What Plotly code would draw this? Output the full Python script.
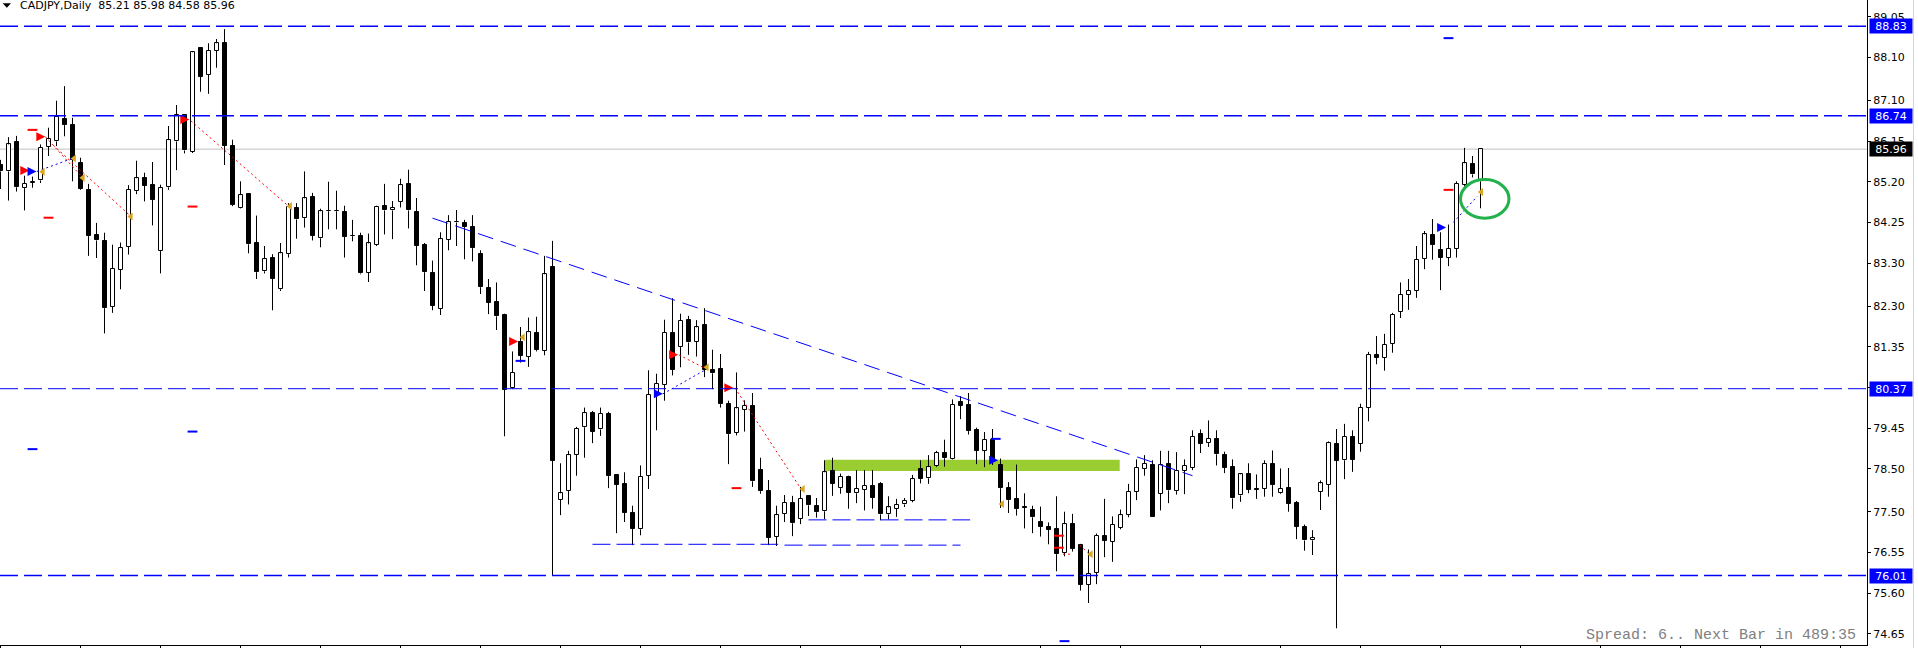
import plotly.graph_objects as go

# ---------------- data ----------------
open_ = [85.58, 85.44, 86.13, 85.05, 85.17, 85.23, 86.01, 86.14, 86.66, 86.53,
         85.64, 85.01, 83.96, 83.82, 82.28, 83.14, 83.68, 84.98, 85.28, 85.12,
         83.58, 85.07, 86.14, 86.75, 85.90, 88.32, 87.70, 88.26, 88.43, 86.03,
         84.58, 84.92, 83.76, 83.11, 83.43, 82.69, 83.51, 84.58, 84.35, 84.84,
         83.88, 84.51, 84.52, 84.49, 83.94, 83.94, 83.07, 83.73, 84.64, 84.53,
         84.73, 85.15, 84.49, 83.73, 83.08, 82.23, 83.84, 84.25, 84.23, 84.14,
         83.52, 82.73, 82.40, 82.08, 80.38, 81.46, 81.11, 81.68, 81.25, 83.20,
         77.78, 77.98, 78.83, 79.47, 79.81, 79.42, 79.79, 78.35, 78.14, 77.46,
         77.09, 78.34, 80.26, 80.46, 81.68, 81.34, 81.98, 81.46, 81.86, 80.81,
         80.84, 80.02, 79.34, 79.88, 79.97, 78.48, 77.98, 76.92, 77.45, 77.70,
         77.33, 77.86, 77.63, 77.51, 78.44, 78.05, 78.32, 77.93, 78.01, 78.11,
         78.14, 77.44, 77.57, 77.67, 77.75, 78.50, 78.28, 78.56, 78.88, 78.74,
         80.07, 79.98, 79.40, 78.92, 79.18, 78.59, 78.06, 77.80, 77.60, 77.54,
         77.27, 77.15, 77.09, 76.54, 77.21, 76.73, 75.80, 76.08, 76.93, 76.80,
         77.12, 77.42, 77.96, 78.50, 78.59, 77.92, 78.62, 77.98, 78.45, 78.53,
         79.31, 79.10, 79.19, 78.82, 78.54, 77.88, 78.38, 78.02, 78.04, 78.62,
         77.93, 78.06, 77.71, 77.15, 76.83, 77.96, 78.13, 79.08, 78.70, 79.25,
         79.08, 79.93, 81.16, 81.09, 81.42, 82.16, 82.56, 82.65, 83.40, 83.96,
         83.61, 83.43, 83.63, 85.12, 85.61, 85.21]
high_ = [85.71, 86.24, 86.27, 85.34, 85.32, 86.07, 86.46, 87.09, 87.43, 86.69,
         85.76, 85.15, 84.24, 84.01, 83.73, 83.78, 85.12, 85.69, 85.41, 85.66,
         85.13, 86.50, 86.99, 86.77, 88.24, 88.34, 88.43, 88.53, 88.76, 86.18,
         85.21, 84.93, 84.41, 83.70, 83.51, 83.77, 84.70, 84.70, 85.44, 84.94,
         84.57, 85.20, 84.99, 84.64, 84.31, 84.01, 83.99, 84.64, 85.15, 84.75,
         85.27, 85.48, 84.82, 83.77, 83.36, 84.02, 84.42, 84.54, 84.31, 84.42,
         83.60, 82.93, 82.85, 82.12, 81.24, 81.81, 82.03, 82.05, 83.47, 83.82,
         78.63, 78.92, 79.48, 79.93, 79.85, 79.93, 79.83, 78.37, 78.42, 77.64,
         78.58, 80.80, 80.72, 81.98, 82.48, 82.12, 82.07, 81.97, 82.25, 81.28,
         81.18, 80.09, 80.75, 80.10, 80.27, 78.76, 78.24, 77.64, 77.89, 77.87,
         78.08, 77.87, 77.82, 78.70, 78.76, 78.39, 78.34, 78.47, 78.47, 78.47,
         78.19, 77.86, 77.80, 77.82, 78.36, 78.70, 78.82, 78.92, 79.18, 80.12,
         80.20, 80.27, 79.46, 79.36, 79.43, 78.74, 78.19, 78.60, 77.93, 77.64,
         77.62, 77.25, 77.86, 77.50, 77.45, 76.75, 76.62, 76.99, 77.80, 77.39,
         77.55, 78.15, 78.72, 78.82, 78.70, 78.92, 78.92, 78.89, 78.72, 79.40,
         79.42, 79.63, 79.40, 78.90, 78.72, 78.40, 78.63, 78.37, 78.70, 78.93,
         78.51, 78.52, 77.75, 77.20, 77.07, 78.23, 79.14, 79.43, 79.55, 79.40,
         80.02, 81.23, 81.60, 81.65, 82.14, 82.85, 82.93, 83.70, 84.05, 84.33,
         84.02, 84.20, 85.21, 85.99, 85.80, 85.98]
low_ = [85.03, 84.76, 84.97, 84.53, 85.06, 85.17, 85.80, 86.03, 86.26, 85.21,
        85.01, 83.47, 83.42, 81.66, 82.14, 82.69, 83.50, 84.91, 84.74, 84.18,
        83.06, 85.01, 85.47, 85.86, 85.87, 87.30, 87.25, 87.86, 85.59, 84.63,
        84.57, 83.53, 82.93, 83.06, 82.20, 82.65, 83.43, 83.87, 84.13, 83.83,
        83.67, 84.09, 84.09, 83.43, 83.81, 83.04, 82.86, 83.70, 83.97, 83.86,
        84.60, 84.11, 83.25, 82.65, 82.20, 82.09, 83.60, 83.70, 83.39, 83.34,
        82.58, 82.11, 81.74, 79.26, 80.36, 80.98, 80.88, 81.24, 81.15, 76.01,
        77.42, 77.67, 78.34, 78.76, 79.10, 79.27, 78.05, 77.00, 77.26, 76.72,
        76.95, 78.03, 79.40, 80.09, 80.68, 80.87, 81.16, 81.12, 80.64, 80.36,
        79.93, 78.61, 79.28, 79.37, 78.08, 77.92, 76.72, 76.70, 77.26, 76.93,
        77.21, 77.40, 77.36, 77.33, 77.87, 77.92, 77.57, 77.70, 77.53, 77.57,
        77.30, 77.32, 77.38, 77.61, 77.72, 78.16, 78.15, 78.54, 78.55, 78.72,
        79.66, 79.30, 78.61, 78.54, 78.59, 77.59, 77.47, 77.41, 77.11, 77.00,
        76.92, 76.74, 76.11, 76.46, 76.57, 75.66, 75.37, 75.81, 76.44, 76.33,
        77.09, 77.37, 77.77, 78.34, 77.37, 77.53, 77.70, 77.90, 77.91, 78.47,
        78.87, 79.01, 78.58, 78.40, 77.57, 77.73, 77.93, 77.80, 77.85, 77.85,
        77.91, 77.50, 76.86, 76.59, 76.49, 77.54, 77.85, 74.78, 78.26, 78.43,
        78.90, 79.61, 80.94, 80.79, 81.21, 82.02, 82.21, 82.49, 83.16, 83.38,
        82.67, 83.23, 83.43, 85.03, 85.30, 84.58]
close_ = [85.44, 86.07, 85.07, 85.15, 85.18, 85.99, 86.19, 86.71, 86.52, 85.71,
          85.03, 83.93, 83.83, 82.25, 83.17, 83.65, 85.01, 85.28, 85.11, 84.78,
          85.05, 86.17, 86.75, 85.93, 88.22, 87.65, 88.26, 88.43, 86.04, 84.66,
          84.90, 83.74, 83.09, 83.40, 82.93, 83.53, 84.62, 84.32, 84.81, 83.94,
          84.51, 84.52, 84.51, 83.91, 83.93, 83.06, 83.76, 84.62, 84.53, 84.59,
          85.12, 84.53, 83.71, 83.09, 82.30, 83.86, 84.26, 84.26, 84.14, 83.65,
          82.74, 82.37, 82.06, 80.34, 80.74, 81.14, 81.69, 81.27, 83.04, 78.69,
          77.93, 78.82, 79.43, 79.80, 79.37, 79.79, 78.33, 78.13, 77.47, 77.10,
          78.32, 80.23, 80.48, 81.68, 80.81, 81.95, 81.45, 81.80, 80.81, 80.73,
          80.01, 79.31, 79.91, 79.97, 78.21, 77.98, 76.89, 77.42, 77.71, 77.23,
          77.80, 77.65, 77.49, 78.42, 78.15, 78.32, 77.94, 78.04, 78.11, 77.83,
          77.44, 77.60, 77.66, 77.75, 78.26, 78.26, 78.54, 78.87, 78.75, 79.99,
          79.97, 79.38, 78.92, 79.18, 78.65, 78.05, 77.77, 77.56, 77.59, 77.37,
          77.15, 77.08, 76.51, 77.21, 76.63, 75.79, 76.05, 76.94, 76.82, 77.19,
          77.42, 77.96, 78.52, 78.62, 77.37, 78.59, 78.00, 78.45, 78.57, 79.25,
          79.08, 79.20, 78.84, 78.52, 77.81, 78.37, 78.01, 78.01, 78.62, 78.12,
          78.03, 77.68, 77.15, 76.83, 76.89, 78.16, 79.10, 78.69, 79.25, 78.71,
          79.92, 81.16, 81.09, 81.39, 82.10, 82.56, 82.65, 83.38, 83.97, 83.72,
          83.43, 83.64, 85.15, 85.63, 85.37, 85.96]

chart_title = "CADJPY,Daily"
y_ticks = [74.65, 75.60, 76.55, 77.50, 78.50, 79.45, 80.40, 81.35, 82.30,
           83.30, 84.25, 85.20, 86.15, 87.10, 88.10, 89.05]
levels = [88.83, 86.74, 80.37, 76.01]
last_price = 85.96
trend_x = [54, 149]
trend_y = [84.35, 78.34]
short_x0 = [74.0, 98.0, 101.0]
short_x1 = [97.2, 120.0, 121.2]
short_y = [76.74, 76.72, 77.31]
zone_x = [103.0, 139.9]
zone_y = [78.45, 78.71]
ellipse_x = [182.5, 188.56]
ellipse_y = [84.35, 85.25]

red_dash_x = [4, 6, 24, 92, 181]
red_dash_y = [86.41, 84.36, 84.62, 78.05, 85.01]
blue_dash_x = [4, 24, 133, 124.4, 181, 65]
blue_dash_y = [78.96, 79.37, 74.48, 79.20, 88.55, 81.02]

sell_x = [3.6, 5.6, 23.6, 64.7, 84.7, 91.6]
sell_y = [85.46, 86.25, 86.65, 81.47, 81.16, 80.39]
buy_x = [4.5, 82.8, 124.7, 180.7]
buy_y = [85.44, 80.25, 78.70, 84.13]
close_mark_x = [5.3, 9.2, 10.3, 16.3, 36.2, 65.3, 88.3, 100.3, 125.2, 136.3, 185.1]
close_mark_y = [85.43, 85.74, 85.29, 84.39, 84.63, 81.57, 80.87, 78.03, 77.68, 76.51, 84.96]

blue_trades = [([4.55, 8.92], [85.44, 85.74]),
               ([82.8, 88.1], [80.25, 80.81]),
               ([181.6, 184.6], [84.25, 84.86])]
red_trades = [([5.6, 10.3], [86.25, 85.29]),
              ([6.6, 16.3], [86.05, 84.39]),
              ([23.8, 36.0], [86.62, 84.63]),
              ([84.8, 88.1], [81.16, 80.84]),
              ([91.8, 100.0], [80.39, 78.05]),
              ([132.8, 133.8], [76.51, 76.51]),
              ([134.9, 135.9], [76.72, 76.55])]
red_small_x = [132.3, 132.3]
red_small_y = [76.94, 76.66]

info_text = "Spread: 6.. Next Bar in 489:35"

# ---------------- layout constants ----------------
W, H = 1918, 648
ML, MR, MT, MB = 0, 51, 0, 3
PW, PH = W - ML - MR, H - MT - MB
BAR_PX = 8.0
x_min = -0.5 / BAR_PX
x_max = x_min + PW / BAR_PX
y_min, y_max = 74.39, 89.44
FONT = "DejaVu Sans"


def pxx(x):
    return x / PW


def pxy(y):
    return 1 - y / PH


idx = list(range(len(close_)))

fig = go.Figure()

# wicks
wx, wy = [], []
for i, o, h, l, c in zip(idx, open_, high_, low_, close_):
    top, bot = max(o, c), min(o, c)
    if h > top:
        wx += [i, i, None]
        wy += [top, h, None]
    if l < bot:
        wx += [i, i, None]
        wy += [bot, l, None]

bases = [min(o, c) for o, c in zip(open_, close_)]
heights = [max(abs(c - o), 0.015) for o, c in zip(open_, close_)]
colors = ["white" if c >= o else "black" for o, c in zip(open_, close_)]

fig.add_trace(go.Bar(x=idx, y=heights, base=bases, width=0.5,
                     marker=dict(color=colors, line=dict(color="black", width=1)),
                     hoverinfo="skip", showlegend=False))
fig.add_trace(go.Scatter(x=wx, y=wy, mode="lines",
                         line=dict(color="black", width=1),
                         hoverinfo="skip", showlegend=False))

# trade lines
for tx, ty in blue_trades:
    fig.add_trace(go.Scatter(x=tx, y=ty, mode="lines",
                             line=dict(color="#0000FF", width=1, dash="2px,3px"),
                             hoverinfo="skip", showlegend=False))
for tx, ty in red_trades:
    fig.add_trace(go.Scatter(x=tx, y=ty, mode="lines",
                             line=dict(color="#FF0000", width=1, dash="2px,3px"),
                             hoverinfo="skip", showlegend=False))

# markers
fig.add_trace(go.Scatter(x=red_dash_x + red_small_x, y=red_dash_y + red_small_y, mode="markers",
                         marker=dict(symbol="line-ew", size=7,
                                     line=dict(color="#FF0000", width=2)),
                         hoverinfo="skip", showlegend=False))
fig.add_trace(go.Scatter(x=blue_dash_x, y=blue_dash_y, mode="markers",
                         marker=dict(symbol="line-ew", size=7,
                                     line=dict(color="#0000FF", width=2)),
                         hoverinfo="skip", showlegend=False))
fig.add_trace(go.Scatter(x=sell_x, y=sell_y, mode="markers",
                         marker=dict(symbol="arrow-right", size=9, color="#FF0000"),
                         hoverinfo="skip", showlegend=False))
fig.add_trace(go.Scatter(x=buy_x, y=buy_y, mode="markers",
                         marker=dict(symbol="arrow-right", size=9, color="#0000FF"),
                         hoverinfo="skip", showlegend=False))
fig.add_trace(go.Scatter(x=close_mark_x, y=close_mark_y, mode="markers",
                         marker=dict(symbol="triangle-left", size=7, color="#DAA520"),
                         hoverinfo="skip", showlegend=False))

shapes = []
# green zone (behind candles)
shapes.append(dict(type="rect", xref="x", yref="y", x0=zone_x[0], x1=zone_x[1],
                   y0=zone_y[0], y1=zone_y[1], fillcolor="#9ACD32",
                   line=dict(width=0), layer="below"))
# current price line
shapes.append(dict(type="line", xref="paper", yref="y", x0=0, x1=1,
                   y0=last_price, y1=last_price,
                   line=dict(color="#C0C0C0", width=1), layer="below"))
# horizontal levels
for lv in levels:
    w = 1 if lv == 80.37 else 1.5
    shapes.append(dict(type="line", xref="paper", yref="y", x0=0, x1=1,
                       y0=lv, y1=lv, line=dict(color="#0000FF", width=w, dash="18px,6px"),
                       layer="above"))
# short support lines
for a, b, yv in zip(short_x0, short_x1, short_y):
    shapes.append(dict(type="line", xref="x", yref="y", x0=a, x1=b, y0=yv, y1=yv,
                       line=dict(color="#0000FF", width=1, dash="18px,6px"), layer="above"))
# trend line
shapes.append(dict(type="line", xref="x", yref="y", x0=trend_x[0], x1=trend_x[1],
                   y0=trend_y[0], y1=trend_y[1],
                   line=dict(color="#0000FF", width=1, dash="16px,8px"), layer="above"))
# ellipse
shapes.append(dict(type="circle", xref="x", yref="y", x0=ellipse_x[0], x1=ellipse_x[1],
                   y0=ellipse_y[0], y1=ellipse_y[1],
                   line=dict(color="#22B14C", width=3), layer="above"))
# title triangle
shapes.append(dict(type="path", xref="paper", yref="paper",
                   path=f"M {pxx(2.7)},{pxy(3.3)} L {pxx(11)},{pxy(3.3)} L {pxx(6.85)},{pxy(7.8)} Z",
                   fillcolor="black", line=dict(width=0), layer="above"))
# window edge
shapes.append(dict(type="line", xref="paper", yref="paper", x0=pxx(1913.5), x1=pxx(1913.5),
                   y0=-MB / PH, y1=1, line=dict(color="#D4D4D4", width=1)))

annotations = []
for lv in levels:
    annotations.append(dict(x=1, xref="paper", xanchor="left", xshift=2,
                            y=lv, yref="y", yanchor="middle", text=f"{lv:.2f}",
                            showarrow=False, bgcolor="#0000FF", borderpad=0,
                            width=42, height=14,
                            font=dict(family=FONT, size=11, color="white")))
annotations.append(dict(x=1, xref="paper", xanchor="left", xshift=2,
                        y=last_price, yref="y", yanchor="middle", text=f"{last_price:.2f}",
                        showarrow=False, bgcolor="#000000", borderpad=0,
                        width=42, height=14,
                        font=dict(family=FONT, size=11, color="white")))
last_bar = (open_[-1], high_[-1], low_[-1], close_[-1])
title_txt = chart_title + "\u00a0\u00a0" + " ".join(f"{v:.2f}" for v in last_bar)
annotations.append(dict(x=pxx(18), xref="paper", xanchor="left",
                        y=pxy(6), yref="paper", yanchor="middle", text=title_txt,
                        showarrow=False, font=dict(family=FONT, size=11, color="black")))
annotations.append(dict(x=pxx(1858), xref="paper", xanchor="right",
                        y=pxy(635), yref="paper", yanchor="middle", text=info_text,
                        showarrow=False, font=dict(family="Liberation Mono", size=15, color="#808080")))

fig.update_layout(
    width=W, height=H,
    margin=dict(l=ML, r=MR, t=MT, b=MB, pad=0),
    paper_bgcolor="white", plot_bgcolor="white",
    font=dict(family=FONT, size=11, color="black"),
    showlegend=False, bargap=0,
    shapes=shapes, annotations=annotations,
    xaxis=dict(range=[x_min, x_max], showgrid=False, zeroline=False,
               showline=True, linecolor="black", linewidth=1,
               ticks="outside", ticklen=3, tickcolor="black", tick0=0, dtick=10,
               showticklabels=False, fixedrange=True, automargin=False),
    yaxis=dict(range=[y_min, y_max], side="right", showgrid=False, zeroline=False,
               showline=True, linecolor="black", linewidth=1,
               tickmode="array", tickvals=y_ticks, ticktext=[f"{v:.2f}" for v in y_ticks],
               ticks="outside", ticklen=3, tickcolor="black",
               tickfont=dict(family=FONT, size=11, color="black"),
               fixedrange=True, automargin=False),
)

fig.write_html("out.html")
